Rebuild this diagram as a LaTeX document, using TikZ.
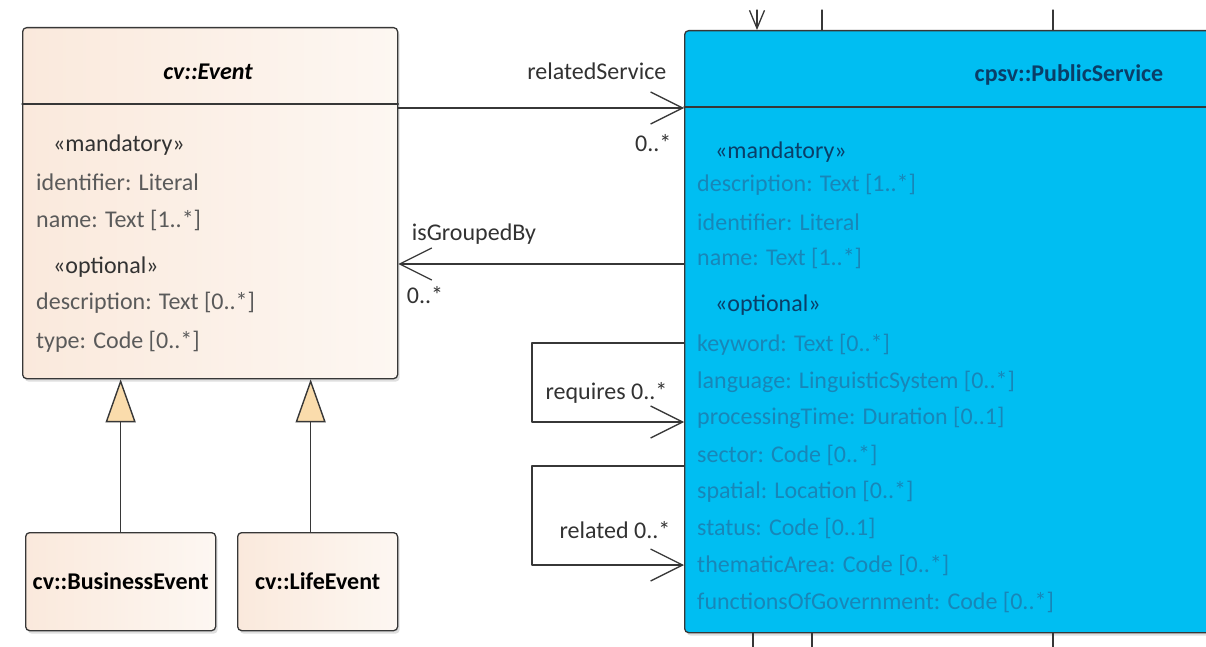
\documentclass[tikz,border=0pt]{standalone}
\usepackage{fontspec}
\setmainfont{Carlito}
\usetikzlibrary{arrows.meta,shadows}
\definecolor{evpeach}{RGB}{250,233,220}
\definecolor{evlight}{RGB}{253,247,242}
\definecolor{pscyan}{RGB}{0,190,242}
\definecolor{psattr}{RGB}{24,134,184}
\definecolor{psnavy}{RGB}{10,62,104}
\definecolor{evgray}{RGB}{90,90,90}
\definecolor{evdark}{RGB}{50,50,50}
\definecolor{edgegray}{RGB}{55,55,55}
\definecolor{genfill}{RGB}{250,220,172}
\begin{document}
\begin{tikzpicture}[x=1pt, y=-1pt, font=\fontsize{24}{28}\selectfont, line join=round, line cap=round,
	umlbox/.style={draw=edgegray, line width=1.3pt, rounded corners=4pt, inner sep=0pt, anchor=north west,
		drop shadow={shadow xshift=2pt, shadow yshift=-3pt, opacity=.25}},
	evbox/.style={umlbox, left color=evpeach, right color=evlight},
	attr/.style={anchor=west, inner sep=0pt},
	lbl/.style={inner sep=0pt, text=evdark},
	stub/.style={draw=edgegray, line width=1.3pt},
	assoc/.style={draw=edgegray, line width=1.3pt, -{Straight Barb[length=32pt, width=32pt, line width=1.3pt]}},
	gen/.style={draw=edgegray, line width=1.4pt, -{Triangle[open, length=43pt, width=30pt, fill=genfill, line width=1.4pt]}}]
	\clip (0,0) rectangle (1206,647);
	% classes
	\node[evbox, minimum width=375pt, minimum height=351pt] (event) at (22,27) {};
	\node[umlbox, fill=pscyan, minimum width=540pt, minimum height=602pt] (ps) at (684,30) {};
	\node[evbox, minimum width=190pt, minimum height=98pt, font=\fontsize{24}{28}\selectfont\bfseries] (bizev) at (25,532) {cv::BusinessEvent};
	\node[evbox, minimum width=160pt, minimum height=98pt, font=\fontsize{24}{28}\selectfont\bfseries] (lifeev) at (237,532) {cv::LifeEvent};
	\draw[stub] ([yshift=-77pt]event.north west) -- ([yshift=-77pt]event.north east);
	\draw[stub] ([yshift=-77pt]ps.north west) -- ([yshift=-77pt]ps.north east);
	\node[font=\fontsize{24}{28}\selectfont\bfseries\itshape] (evtitle) at (208,72) {cv::Event};
	\node[font=\fontsize{24}{28}\selectfont\bfseries, text=psnavy] (pstitle) at (1069,75) {cpsv::PublicService};
	% attributes
	\node[attr, text=evdark] (evmand) at (53,145) {«mandatory»};
	\node[attr, text=evdark] (evopt) at (53,267) {«optional»};
	\foreach \y/\txt [count=\i] in {182/identifier: Literal, 220/{name: Text [1..*]},
		303/{description: Text [0..*]}, 342/{type: Code [0..*]}}
	\node[attr, text=evgray] (evattr\i) at (36,\y) {\txt};
	\node[attr, text=psnavy] (psmand) at (715,152) {«mandatory»};
	\node[attr, text=psnavy] (psopt) at (715,305) {«optional»};
	\foreach \y/\txt [count=\i] in {185/{description: Text [1..*]}, 222/identifier: Literal,
		258/{name: Text [1..*]}, 345/{keyword: Text [0..*]},
		382/{language: LinguisticSystem [0..*]}, 418/{processingTime: Duration [0..1]},
		455/{sector: Code [0..*]}, 492/{spatial: Location [0..*]},
		528/{status: Code [0..1]}, 565/{thematicArea: Code [0..*]},
		602/{functionsOfGovernment: Code [0..*]}}
	\node[attr, text=psattr] (psattr\i) at (697,\y) {\txt};
	% associations
	\draw[assoc] ([yshift=-81pt]event.north east) -- ([yshift=-78pt]ps.north west)
		node[lbl, anchor=east, xshift=-17pt, yshift=37pt] (rslbl) {relatedService}
		node[lbl, anchor=east, xshift=-12pt, yshift=-35pt] (rsmult) {0..*};
	\draw[assoc] ([yshift=-234pt]ps.north west) -- ([yshift=-237pt]event.north east)
		node[lbl, anchor=west, xshift=13pt, yshift=30pt] (gblbl) {isGroupedBy}
		node[lbl, anchor=west, xshift=8pt, yshift=-31pt] (gbmult) {0..*};
	\draw[assoc] ([yshift=-313pt]ps.north west) -- ++(-152,0) |- ([yshift=-392pt]ps.north west)
		node[lbl, anchor=east, xshift=-16pt, yshift=29pt] (reqlbl) {requires 0..*};
	\draw[assoc] ([yshift=-436pt]ps.north west) -- ++(-152,0) |- ([yshift=-535pt]ps.north west)
		node[lbl, anchor=east, xshift=-13pt, yshift=35pt] (rellbl) {related 0..*};
	% generalisations
	\draw[gen] (bizev.north) -- (bizev.north |- event.south);
	\draw[gen] ([xshift=-7pt]lifeev.north) -- ([xshift=-7pt]lifeev.north |- event.south);
	% stubs of other links
	\draw[stub, -{Straight Barb[length=18pt, width=15pt, line width=1.3pt]}] ([xshift=73pt, yshift=20pt]ps.north west) -- ([xshift=73pt]ps.north west);
	\foreach \dx in {138,369}
	\draw[stub] ([xshift=\dx pt, yshift=20pt]ps.north west) -- ([xshift=\dx pt]ps.north west);
	\foreach \dx in {69,128,369}
	\draw[stub] ([xshift=\dx pt]ps.south west) -- ([xshift=\dx pt, yshift=-20pt]ps.south west);
\end{tikzpicture}
\end{document}
